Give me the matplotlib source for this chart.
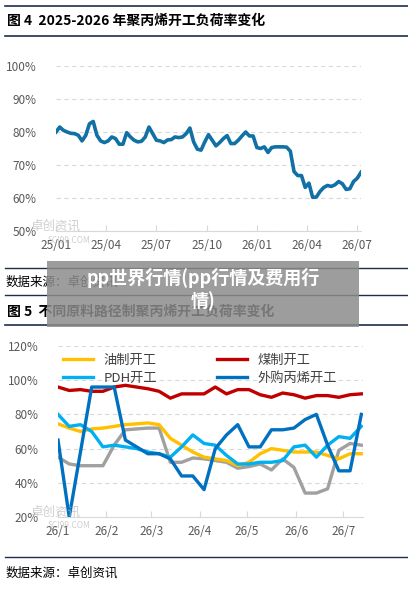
import matplotlib
matplotlib.use("Agg")
import matplotlib.pyplot as plt
from matplotlib.patches import Rectangle
from matplotlib.lines import Line2D

plt.rcParams['font.family'] = ['Noto Sans CJK SC', 'DejaVu Sans']

# ---- data: chart 1 (weekly PP operating rate, %)
top_vals = [80, 81.5, 80.5, 80, 79.6, 79.5, 79, 77.3, 79, 82.5, 83.2, 79, 77.3, 76.8, 77.3, 78.5, 78,
            76.3, 76.3, 79.8, 78.5, 77.5, 77, 77.2, 78.5, 81.5, 79.5, 77.5, 77.3, 76.8, 77.6, 77.7,
            78.5, 78.3, 78.5, 79.5, 81.2, 77, 74.8, 74.5, 77, 79.2, 77.5, 75.8, 76.8, 78, 78.9, 76.5,
            76.5, 77.5, 78.8, 80, 78.8, 78.8, 75.3, 75, 75.5, 73.8, 75.3, 75.5, 75.5, 75.5, 75.4,
            74.2, 68, 66.8, 66.8, 63.2, 64.5, 60.2, 60.3, 62, 63.2, 63.8, 63.5, 64, 65, 64.3, 62.6,
            62.8, 65, 66, 67.8]
top_ticks = ['25/01', '25/04', '25/07', '25/10', '26/01', '26/04', '26/07']
top_yticks = [50, 60, 70, 80, 90, 100]

# ---- data: chart 2 (by feedstock route, %)
oil = [74.5, 72, 70, 71.5, 72, 73, 74, 74.5, 75, 74, 66, 62, 58, 55, 54, 53, 50, 52, 57, 60, 59, 58, 58, 58, 56, 54, 57, 57]
coal = [96, 94, 94.5, 93.5, 93.5, 96, 97, 96, 95, 93.5, 89.5, 92, 92, 92, 96, 92, 94.5, 94.5, 91.5, 90, 92.5, 91.5, 89.5, 91, 91, 90, 91.5, 92]
pdh = [80, 73, 74, 70, 61, 62, 61, 60, 58, 57, 55, 61, 68, 63, 62, 56, 51, 51, 52, 52, 53, 61, 62, 55, 62, 67, 66, 73]
buy = [65, 20, 58, 96, 96, 96, 65, 61, 57, 57, 54, 44, 44, 36, 60, 68, 74, 61, 61, 71, 71, 72, 77, 80, 62, 47, 47, 80]
gray = [55, 51, 50, 50, 50, 62, 71, 71.5, 72, 72, 52, 52, 54.5, 54, 53, 52, 48.5, 49.5, 51, 47.5, 54, 49, 34, 34, 36.5, 59, 63, 62]
bot_ticks = ['26/1', '26/2', '26/3', '26/4', '26/5', '26/6', '26/7']
bot_tickpos = [0, 4.3, 8.3, 12.6, 16.8, 21.2, 25.4]
bot_yticks = [20, 40, 60, 80, 100, 120]
names = ['油制开工', '煤制开工', 'PDH开工', '外购丙烯开工']

W, H = 408, 589
fig = plt.figure(figsize=(W/100, H/100), dpi=100)
fig.patch.set_facecolor('white')

def hline(y, x0=5, x1=408, c='#1F2D4D', lw=1.2):
    fig.add_artist(Line2D([x0/W, x1/W], [1-y/H, 1-y/H], color=c, lw=lw))

def ftext(x, y, s, **kw):
    fig.text(x/W, 1-y/H, s, **kw)

def axes_px(x0, y0, x1, y1):
    return fig.add_axes([x0/W, 1-y1/H, (x1-x0)/W, (y1-y0)/H])

tick_c = '#595959'
grid_c = '#D9D9D9'

# header 1
hline(6); hline(36)
ftext(7, 21, '图 4  2025-2026 年聚丙烯开工负荷率变化', fontsize=10, fontweight='bold', va='center', color='black')

ax1 = axes_px(56, 66, 361, 231)
x1 = list(range(len(top_vals)))
ax1.plot(x1, top_vals, color='#1170A4', lw=2.6, solid_joinstyle='round')
ax1.set_ylim(50, 100)
ax1.set_xlim(0, len(top_vals)-1)
ax1.set_yticks(top_yticks)
ax1.set_yticklabels([f'{v}%' for v in top_yticks])
ax1.set_xticks([i*13.5 for i in range(len(top_ticks))])
ax1.set_xticklabels(top_ticks)
ax1.grid(axis='y', color=grid_c, ls=(0, (4, 3)), lw=0.8)
for s in ['top', 'right', 'left']:
    ax1.spines[s].set_visible(False)
ax1.spines['bottom'].set_color(grid_c)
ax1.tick_params(axis='both', colors=tick_c, labelsize=8.5, length=0)
ax1.tick_params(axis='x', length=4, color=grid_c, direction='in', pad=6)
ax1.tick_params(axis='y', pad=14)
ax1.set_axisbelow(True)
ftext(30, 226, '卓创资讯', fontsize=9, color='#BBBBBB', alpha=0.7, va='center', ha='left')
ftext(48, 240, 'SCI99.COM', fontsize=6, color='#BBBBBB', alpha=0.7, va='center')

hline(268, lw=1.0); hline(295, lw=1.0)
ftext(6, 282, '数据来源：卓创资讯', fontsize=9, va='center', color='black')

# header 2
ftext(7, 312, '图 5  不同原料路径制聚丙烯开工负荷率变化', fontsize=10, fontweight='bold', va='center', color='black')
hline(325)

ax2 = axes_px(58, 346, 363, 517)
x2 = list(range(len(oil)))
cols = ['#FFC000', '#C00000', '#00B0F0', '#0070C0']
ax2.plot(x2, gray, color='#A0A0A0', lw=2.4)
h_oil, = ax2.plot(x2, oil, color=cols[0], lw=2.4)
h_coal, = ax2.plot(x2, coal, color=cols[1], lw=2.4)
h_pdh, = ax2.plot(x2, pdh, color=cols[2], lw=2.4)
h_buy, = ax2.plot(x2, buy, color=cols[3], lw=2.4)
ax2.set_ylim(20, 120)
ax2.set_xlim(0, len(oil)-1 + 0.15)
ax2.set_yticks(bot_yticks)
ax2.set_yticklabels([f'{v}%' for v in bot_yticks])
ax2.set_xticks(bot_tickpos)
ax2.set_xticklabels(bot_ticks)
ax2.grid(axis='y', color=grid_c, ls=(0, (4, 3)), lw=0.8)
for s in ['top', 'right', 'left']:
    ax2.spines[s].set_visible(False)
ax2.spines['bottom'].set_color(grid_c)
ax2.tick_params(axis='both', colors=tick_c, labelsize=8.5, length=0)
ax2.tick_params(axis='x', length=4, color=grid_c, direction='in', pad=6)
ax2.tick_params(axis='y', pad=14)
ax2.legend([h_oil, h_pdh, h_coal, h_buy], [names[0], names[2], names[1], names[3]],
           ncol=2, frameon=False, loc='upper left', bbox_to_anchor=(-0.01, 1.0),
           fontsize=9.5, handlelength=2.3, columnspacing=4.5, labelspacing=0.35,
           labelcolor='#404040', borderaxespad=0.2)
ftext(30, 512, '卓创资讯', fontsize=9, color='#BBBBBB', alpha=0.7, va='center')
ftext(48, 526, 'SCI99.COM', fontsize=6, color='#BBBBBB', alpha=0.7, va='center')

hline(557, lw=1.0)
ftext(6, 573, '数据来源：卓创资讯', fontsize=9, va='center', color='black')

# overlay banner
fig.add_artist(Rectangle((47/W, 1-327/H), (359-47)/W, (327-261)/H, transform=fig.transFigure,
                         facecolor='#8C8C8C', alpha=0.85, edgecolor='none', zorder=10))
ftext(203, 278, 'pp世界行情(pp行情及费用行', fontsize=13, fontweight='bold', color='white',
      ha='center', va='center', zorder=11)
ftext(203, 301, '情)', fontsize=13, fontweight='bold', color='white', ha='center', va='center', zorder=11)

fig.savefig('out.png', dpi=100)
